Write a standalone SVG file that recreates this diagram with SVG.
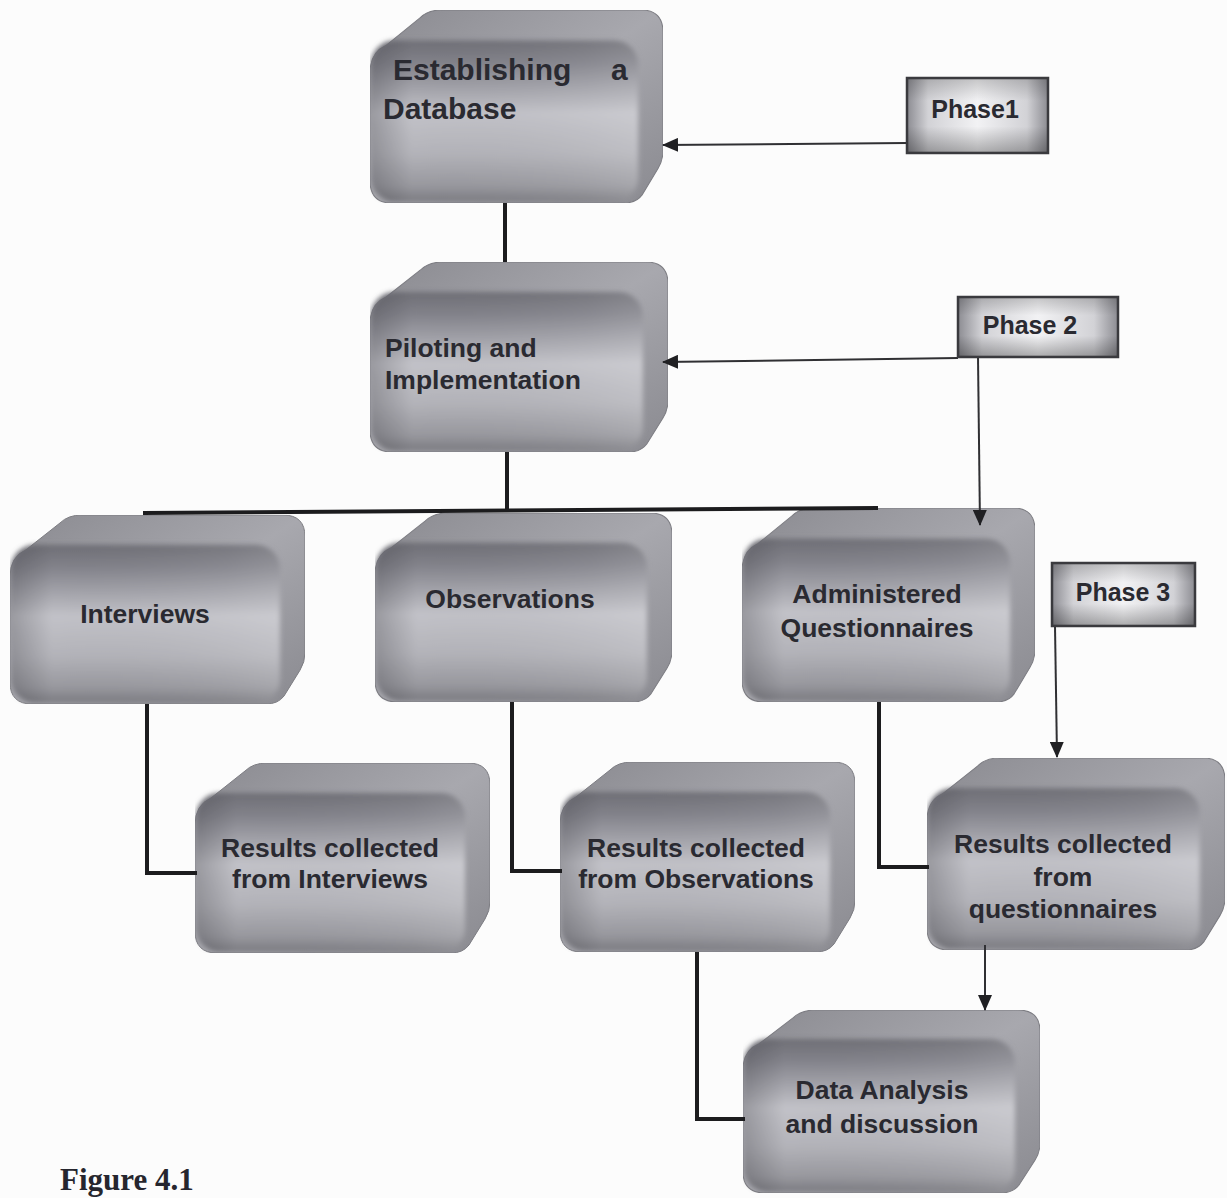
<svg xmlns="http://www.w3.org/2000/svg" xmlns:xlink="http://www.w3.org/1999/xlink" width="1227" height="1198" viewBox="0 0 1227 1198">
  <style>
    .lbl { font-family: "Liberation Sans", Arial, sans-serif; font-weight: bold; font-size: 26.5px; fill: #2a2a31; }
    .ctr { text-anchor: middle; }
    .phase { font-family: "Liberation Sans", Arial, sans-serif; font-weight: bold; font-size: 25px; fill: #2a2a31; text-anchor: middle; }
    .tree { fill: none; stroke: #1c1c1e; stroke-width: 4; }
    .arrow { fill: none; stroke: #303033; stroke-width: 2; marker-end: url(#head); }
    .phasebox { stroke: #3a3a3e; stroke-width: 2.5; }
    .cap { font-family: "Liberation Serif", "Times New Roman", serif; font-weight: bold; font-size: 31px; fill: #26262e; }
  </style>
  <defs>
    <marker id="head" viewBox="0 0 16 14" refX="15" refY="7" markerWidth="16" markerHeight="14" markerUnits="userSpaceOnUse" orient="auto">
      <path d="M0,0 L16,7 L0,14 Z" fill="#202023"/>
    </marker>
    <linearGradient id="side" x1="0" y1="0" x2="1" y2="1">
      <stop offset="0" stop-color="#8a8a90"/>
      <stop offset="0.5" stop-color="#a8a8ae"/>
      <stop offset="1" stop-color="#8a8a90"/>
    </linearGradient>
    <linearGradient id="face" x1="0" y1="0" x2="0" y2="1">
      <stop offset="0" stop-color="#6e6e75"/>
      <stop offset="0.14" stop-color="#82828a"/>
      <stop offset="0.45" stop-color="#c2c2c8"/>
      <stop offset="0.7" stop-color="#b3b3b9"/>
      <stop offset="0.9" stop-color="#98989e"/>
      <stop offset="1" stop-color="#7a7a80"/>
    </linearGradient>
    <linearGradient id="faceShade" x1="0" y1="0" x2="1" y2="0">
      <stop offset="0" stop-color="#3c3c42" stop-opacity="0.3"/>
      <stop offset="0.15" stop-color="#3c3c42" stop-opacity="0"/>
      <stop offset="0.8" stop-color="#ffffff" stop-opacity="0.06"/>
      <stop offset="1" stop-color="#ffffff" stop-opacity="0.14"/>
    </linearGradient>
    <linearGradient id="phaseH" x1="0" y1="0" x2="1" y2="0">
      <stop offset="0" stop-color="#8c8c92"/>
      <stop offset="0.15" stop-color="#d2d2d6"/>
      <stop offset="0.5" stop-color="#f2f2f4"/>
      <stop offset="0.85" stop-color="#d2d2d6"/>
      <stop offset="1" stop-color="#8c8c92"/>
    </linearGradient>
    <linearGradient id="phaseV" x1="0" y1="0" x2="0" y2="1">
      <stop offset="0" stop-color="#000" stop-opacity="0.18"/>
      <stop offset="0.3" stop-color="#000" stop-opacity="0"/>
      <stop offset="0.65" stop-color="#000" stop-opacity="0"/>
      <stop offset="1" stop-color="#000" stop-opacity="0.28"/>
    </linearGradient>
    <filter id="soft" x="-5%" y="-5%" width="110%" height="110%">
      <feGaussianBlur stdDeviation="2.5"/>
    </filter>
    <!-- extruded rounded block, front face lower-left, depth up-right -->
    <symbol id="block" viewBox="0 0 295 190" preserveAspectRatio="none">
      <path d="M0,62 Q0,42 16,35 L50,8 Q58,0 72,0 L273,0 Q295,0 295,22 L295,138 Q295,148 290,156 L274,182 Q268,190 256,190 L22,190 Q0,190 0,168 Z" fill="url(#side)" stroke="#7c7c82" stroke-width="1"/>
      <g filter="url(#soft)">
        <rect x="1" y="30" width="269" height="159" rx="24" fill="url(#face)"/>
        <rect x="1" y="30" width="269" height="159" rx="24" fill="url(#faceShade)"/>
      </g>
    </symbol>
  </defs>

  <rect width="1227" height="1198" fill="#fcfcfc"/>

  <g id="node-database">
    <use href="#block" x="370" y="10" width="293" height="193"/>
    <text class="lbl" style="font-size:30px" x="393" y="80">Establishing</text>
    <text class="lbl" style="font-size:30px" x="611" y="80">a</text>
    <text class="lbl" style="font-size:30px" x="383" y="119">Database</text>
  </g>

  <g id="node-piloting">
    <use href="#block" x="370" y="262" width="298" height="190"/>
    <text class="lbl" x="385" y="357">Piloting and</text>
    <text class="lbl" x="385" y="389">Implementation</text>
  </g>

  <g id="node-interviews">
    <use href="#block" x="10" y="515" width="295" height="189"/>
    <text class="lbl ctr" x="145" y="623">Interviews</text>
  </g>

  <g id="node-observations">
    <use href="#block" x="375" y="513" width="297" height="189"/>
    <text class="lbl ctr" x="510" y="608">Observations</text>
  </g>

  <g id="node-questionnaires">
    <use href="#block" x="742" y="508" width="293" height="194"/>
    <text class="lbl ctr" x="877" y="603">Administered</text>
    <text class="lbl ctr" x="877" y="637">Questionnaires</text>
  </g>

  <g id="node-results-interviews">
    <use href="#block" x="195" y="763" width="295" height="190"/>
    <text class="lbl ctr" x="330" y="857">Results collected</text>
    <text class="lbl ctr" x="330" y="888">from Interviews</text>
  </g>

  <g id="node-results-observations">
    <use href="#block" x="560" y="762" width="295" height="190"/>
    <text class="lbl ctr" x="696" y="857">Results collected</text>
    <text class="lbl ctr" x="696" y="888">from Observations</text>
  </g>

  <g id="node-results-questionnaires">
    <use href="#block" x="927" y="758" width="298" height="192"/>
    <text class="lbl ctr" x="1063" y="853">Results collected</text>
    <text class="lbl ctr" x="1063" y="886">from</text>
    <text class="lbl ctr" x="1063" y="918">questionnaires</text>
  </g>

  <g id="node-analysis">
    <use href="#block" x="743" y="1010" width="297" height="183"/>
    <text class="lbl ctr" x="882" y="1099">Data Analysis</text>
    <text class="lbl ctr" x="882" y="1133">and discussion</text>
  </g>

  <!-- tree connectors and arrows, drawn over the blocks -->
  <g id="connectors">
    <path class="tree" d="M505,203 L505,262"/>
    <path class="tree" d="M507,452 L507,512"/>
    <path class="tree" d="M143,513 L878,508"/>
    <path class="tree" d="M147,704 L147,873 L197,873"/>
    <path class="tree" d="M512,702 L512,871 L562,871"/>
    <path class="tree" d="M879,702 L879,867 L929,867"/>
    <path class="tree" d="M697,952 L697,1119 L745,1119"/>
    <path class="arrow" d="M907,143 L663,145"/>
    <path class="arrow" d="M958,358 L663,362"/>
    <path class="arrow" d="M978,357 L980,525"/>
    <path class="arrow" d="M1055,626 L1057,757"/>
    <path class="arrow" d="M985,945 L985,1010"/>
  </g>

  <g id="phase-1">
    <rect class="phasebox" x="907" y="78" width="141" height="75" fill="url(#phaseH)"/>
    <rect x="908" y="79" width="139" height="73" fill="url(#phaseV)"/>
    <text class="phase" x="975" y="118">Phase1</text>
  </g>

  <g id="phase-2">
    <rect class="phasebox" x="958" y="297" width="160" height="60" fill="url(#phaseH)"/>
    <rect x="959" y="298" width="158" height="58" fill="url(#phaseV)"/>
    <text class="phase" x="1030" y="334">Phase 2</text>
  </g>

  <g id="phase-3">
    <rect class="phasebox" x="1052" y="563" width="143" height="63" fill="url(#phaseH)"/>
    <rect x="1053" y="564" width="141" height="61" fill="url(#phaseV)"/>
    <text class="phase" x="1123" y="601">Phase 3</text>
  </g>

  <text class="cap" x="60" y="1190">Figure 4.1</text>
</svg>
